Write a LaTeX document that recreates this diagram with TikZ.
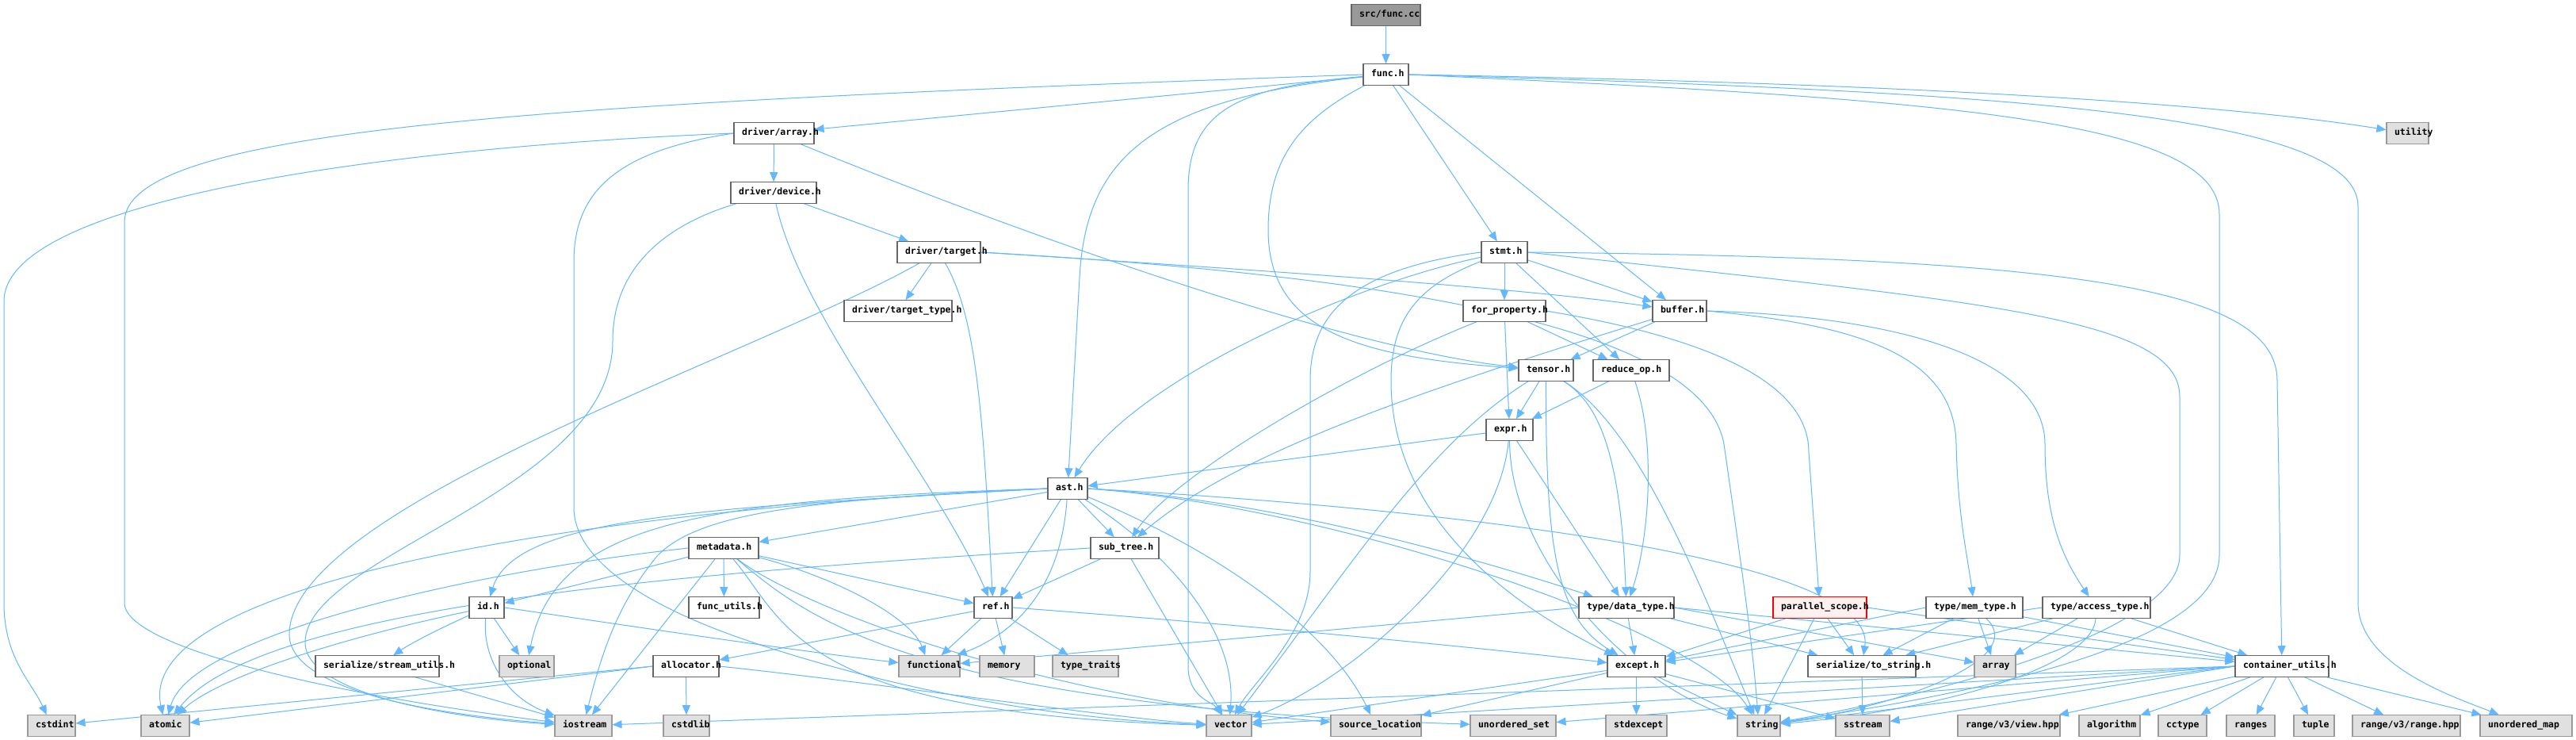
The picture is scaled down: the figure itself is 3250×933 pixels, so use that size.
\documentclass[tikz,border=0pt]{standalone}
\usepackage{fontspec}
\newfontfamily\dfont{DejaVu Sans Mono Bold}
\usetikzlibrary{arrows.meta}
\pgfdeclarelayer{bg}
\pgfsetlayers{bg,main}
\definecolor{edgec}{HTML}{63B8FF}
\definecolor{cdark}{HTML}{666666}
\definecolor{cmid}{HTML}{999999}
\definecolor{clight}{HTML}{E0E0E0}
\definecolor{cpink}{HTML}{FFF0F0}
\definecolor{cred}{HTML}{FF0000}
\tikzset{
  box/.style={rectangle, minimum height=26.5pt, inner xsep=10pt, inner ysep=0pt, line width=1.1pt,
    font=\dfont\fontsize{11.5}{13}\selectfont, text=black},
  nrm/.style={box, draw=cdark, fill=white},
  ext/.style={box, draw=cmid, fill=clight},
  rootbox/.style={box, draw=cdark, fill=cmid},
  hlbox/.style={box, draw=cred, fill=cpink},
  dep/.style={draw=edgec, line width=1pt, -{Triangle[length=12pt,width=10pt]}},
}
\newcommand\dnode[5]{\node[#1, minimum width=#4pt] (#2) at (#3) {\makebox[\dimexpr #4pt-20pt\relax][l]{\strut #5}};}
\begin{document}
\begin{tikzpicture}[x=1pt,y=-1pt]
\useasboundingbox (0,0) rectangle (3250,933);
% nodes
\dnode{rootbox}{srcfunc}{1748.5,19}{87}{src/func.cc}
\dnode{nrm}{funch}{1748.5,94}{57}{func.h}
\dnode{nrm}{darray}{976.5,168}{101}{driver/array.h}
\dnode{ext}{utility}{3037.5,168}{53}{utility}
\dnode{nrm}{ddevice}{976,243}{108}{driver/device.h}
\dnode{nrm}{dtarget}{1184.5,318}{105}{driver/target.h}
\dnode{nrm}{stmt}{1898,318}{58}{stmt.h}
\dnode{nrm}{dttype}{1133,392}{136}{driver/target\_type.h}
\dnode{nrm}{forprop}{1898,392}{104}{for\_property.h}
\dnode{nrm}{buffer}{2119,392}{68}{buffer.h}
\dnode{nrm}{tensor}{1950.5,467}{69}{tensor.h}
\dnode{nrm}{reduceop}{2058,467}{96}{reduce\_op.h}
\dnode{nrm}{expr}{1904.5,542}{59}{expr.h}
\dnode{nrm}{ast}{1347,616}{50}{ast.h}
\dnode{nrm}{metadata}{913,691}{88}{metadata.h}
\dnode{nrm}{subtree}{1419,691}{86}{sub\_tree.h}
\dnode{nrm}{idh}{614,766}{44}{id.h}
\dnode{nrm}{funcutils}{913.5,766}{89}{func\_utils.h}
\dnode{nrm}{refh}{1253,766}{48}{ref.h}
\dnode{nrm}{datatype}{2052,766}{120}{type/data\_type.h}
\dnode{hlbox}{pscope}{2296,766}{118}{parallel\_scope.h}
\dnode{nrm}{memtype}{2491,766}{122}{type/mem\_type.h}
\dnode{nrm}{acctype}{2645,766}{136}{type/access\_type.h}
\dnode{nrm}{streamutils}{476,840}{156}{serialize/stream\_utils.h}
\dnode{ext}{optional}{664.5,840}{69}{optional}
\dnode{nrm}{allocator}{865.5,840}{83}{allocator.h}
\dnode{ext}{functional}{1172.5,840}{77}{functional}
\dnode{ext}{memory}{1270.5,840}{69}{memory}
\dnode{ext}{typetraits}{1369.5,840}{83}{type\_traits}
\dnode{nrm}{except}{2064.5,840}{73}{except.h}
\dnode{nrm}{tostring}{2349,840}{136}{serialize/to\_string.h}
\dnode{ext}{array}{2517,840}{52}{array}
\dnode{nrm}{contutils}{2879,840}{118}{container\_utils.h}
\dnode{ext}{cstdint}{65,915}{60}{cstdint}
\dnode{ext}{atomic}{208.5,915}{61}{atomic}
\dnode{ext}{iostream}{736,915}{72}{iostream}
\dnode{ext}{cstdlib}{866,915}{58}{cstdlib}
\dnode{ext}{vector}{1550.5,915}{57}{vector}
\dnode{ext}{srcloc}{1736,915}{114}{source\_location}
\dnode{ext}{uset}{1909,915}{108}{unordered\_set}
\dnode{ext}{stdexcept}{2064.5,915}{77}{stdexcept}
\dnode{ext}{string}{2219,915}{54}{string}
\dnode{ext}{sstream}{2350,915}{68}{sstream}
\dnode{ext}{viewhpp}{2534.5,915}{129}{range/v3/view.hpp}
\dnode{ext}{algorithm}{2661.5,915}{77}{algorithm}
\dnode{ext}{cctype}{2753.5,915}{61}{cctype}
\dnode{ext}{ranges}{2839.5,915}{61}{ranges}
\dnode{ext}{tuple}{2919.5,915}{51}{tuple}
\dnode{ext}{rangehpp}{3036,915}{136}{range/v3/range.hpp}
\dnode{ext}{umap}{3187,915}{116}{unordered\_map}
\begin{pgfonlayer}{bg}
\fill[white] (0,0) rectangle (3250,933);
% src/func.cc
\draw[dep] (srcfunc) -- (funch);
% func.h
\draw[dep] (funch) -- (darray);
\draw[dep] (funch.west) .. controls (700,130) and (157,160) .. (157,280) -- (157,760) .. controls (157,820) and (450,880) .. (iostream);
\draw[dep] (funch) .. controls (1560,110) and (1499,140) .. (1499,240) -- (1499,840) .. controls (1499,880) and (1530,885) .. (vector);
\draw[dep] (funch) .. controls (1450,125) and (1370,200) .. (1362,350) -- (ast);
\draw[dep] (funch) .. controls (1640,150) and (1600,200) .. (1600,290) .. controls (1600,420) and (1720,450) .. (tensor);
\draw[dep] (funch) -- (stmt);
\draw[dep] (funch) -- (buffer);
\draw[dep] (funch.east) .. controls (2400,105) and (2800,130) .. (utility);
\draw[dep] (funch.east) .. controls (2500,115) and (2975,140) .. (2975,260) -- (2975,760) .. controls (2975,840) and (3100,880) .. (umap);
\draw[dep] (funch.east) .. controls (2450,125) and (2800,150) .. (2800,270) -- (2800,700) .. controls (2800,820) and (2450,880) .. (string);
% driver/array.h
\draw[dep] (darray) -- (ddevice);
\draw[dep] (darray) .. controls (1300,300) and (1700,440) .. (tensor);
\draw[dep] (darray.west) .. controls (500,185) and (5,250) .. (5,380) -- (5,760) .. controls (5,830) and (40,860) .. (cstdint);
\draw[dep] (darray.west) .. controls (780,190) and (724,240) .. (724,330) -- (724,640) .. controls (724,700) and (800,760) .. (950,810) .. controls (1100,860) and (1300,905) .. (vector);
% driver/device.h
\draw[dep] (ddevice) -- (dtarget);
\draw[dep] (ddevice) .. controls (1010,400) and (1180,600) .. (refh);
\draw[dep] (ddevice) .. controls (850,280) and (773,330) .. (773,430) .. controls (773,620) and (385,700) .. (385,810) .. controls (385,880) and (600,908) .. (iostream);
% driver/target.h
\draw[dep] (dtarget) -- (dttype);
\draw[dep] (dtarget) .. controls (1232,400) and (1240,520) .. (refh);
\draw[dep] (dtarget) .. controls (950,450) and (365,640) .. (365,800) .. controls (365,880) and (600,905) .. (iostream);
\draw[dep] (dtarget.east) .. controls (1500,335) and (1900,360) .. (buffer);
\draw[dep] (dtarget.east) .. controls (1800,350) and (2150,420) .. (2175,560) .. controls (2195,700) and (2210,800) .. (string);
% stmt.h
\draw[dep] (stmt) .. controls (1700,360) and (1430,480) .. (ast);
\draw[dep] (stmt) -- (forprop);
\draw[dep] (stmt) -- (buffer);
\draw[dep] (stmt) -- (reduceop);
\draw[dep] (stmt) .. controls (1790,360) and (1755,400) .. (1755,480) .. controls (1755,650) and (1900,760) .. (except);
\draw[dep] (stmt.west) .. controls (1700,340) and (1653,400) .. (1653,480) -- (1653,720) .. controls (1653,800) and (1580,860) .. (vector);
\draw[dep] (stmt.east) .. controls (2500,380) and (2750,400) .. (2750,500) -- (2750,700) .. controls (2750,800) and (2420,880) .. (string);
\draw[dep] (stmt.east) .. controls (2600,325) and (2873,360) .. (2873,480) -- (contutils);
% for_property.h
\draw[dep] (forprop) .. controls (1700,470) and (1480,600) .. (subtree);
\draw[dep] (forprop) -- (expr);
\draw[dep] (forprop) -- (reduceop);
\draw[dep] (forprop.east) .. controls (2150,425) and (2282,480) .. (2282,570) -- (pscope);
% buffer.h
\draw[dep] (buffer) -- (tensor);
\draw[dep] (buffer) .. controls (1800,490) and (1560,570) .. (subtree);
\draw[dep] (buffer.east) .. controls (2350,410) and (2466,450) .. (2468,560) .. controls (2470,650) and (2482,700) .. (memtype);
\draw[dep] (buffer.east) .. controls (2420,400) and (2580,460) .. (2580,560) .. controls (2580,650) and (2600,700) .. (acctype);
% tensor.h
\draw[dep] (tensor) -- (expr);
\draw[dep] (tensor) .. controls (2020,510) and (2045,580) .. (datatype);
\draw[dep] (tensor) .. controls (1950,700) and (1965,780) .. (except);
\draw[dep] (tensor) .. controls (2070,540) and (2150,750) .. (string);
\draw[dep] (tensor) .. controls (1800,560) and (1700,720) .. (vector);
% reduce_op.h
\draw[dep] (reduceop) -- (expr);
\draw[dep] (reduceop) .. controls (2090,560) and (2080,680) .. (datatype);
% expr.h
\draw[dep] (expr) -- (ast);
\draw[dep] (expr) -- (datatype);
\draw[dep] (expr) .. controls (1890,700) and (1700,860) .. (vector);
\draw[dep] (expr) .. controls (1905,700) and (2050,860) .. (string);
% ast.h
\draw[dep] (ast) -- (metadata);
\draw[dep] (ast) -- (subtree);
\draw[dep] (ast) -- (refh);
\draw[dep] (ast) .. controls (1340,720) and (1300,790) .. (functional);
\draw[dep] (ast.west) .. controls (900,640) and (650,650) .. (idh);
\draw[dep] (ast.west) .. controls (700,645) and (170,740) .. (atomic);
\draw[dep] (ast.west) .. controls (880,630) and (700,660) .. (optional);
\draw[dep] (ast.west) .. controls (1000,630) and (880,650) .. (830,700) .. controls (780,760) and (760,820) .. (iostream);
\draw[dep] (ast.east) .. controls (1600,630) and (1850,700) .. (datatype);
\draw[dep] (ast.east) .. controls (1800,640) and (2370,700) .. (tostring);
\draw[dep] (ast.east) .. controls (1700,640) and (2150,800) .. (string);
\draw[dep] (ast) .. controls (1550,700) and (1680,800) .. (srcloc);
\draw[dep] (ast) .. controls (1480,700) and (1560,800) .. (vector);
% metadata.h
\draw[dep] (metadata) -- (funcutils);
\draw[dep] (metadata) -- (refh);
\draw[dep] (metadata) -- (idh);
\draw[dep] (metadata) .. controls (1060,730) and (1150,780) .. (functional);
\draw[dep] (metadata) .. controls (990,780) and (1000,900) .. (vector);
\draw[dep] (metadata) .. controls (1020,780) and (1150,890) .. (uset);
\draw[dep] (metadata) .. controls (1000,760) and (1300,880) .. (srcloc);
\draw[dep] (metadata.west) .. controls (600,720) and (240,800) .. (atomic);
\draw[dep] (metadata) -- (iostream);
% sub_tree.h
\draw[dep] (subtree) -- (refh);
\draw[dep] (subtree) -- (vector);
\draw[dep] (subtree.west) .. controls (900,720) and (330,760) .. (atomic);
% ref.h
\draw[dep] (refh) -- (functional);
\draw[dep] (refh) -- (memory);
\draw[dep] (refh) -- (typetraits);
\draw[dep] (refh) -- (allocator);
\draw[dep] (refh.east) .. controls (1600,790) and (1900,820) .. (except);
% id.h
\draw[dep] (idh) .. controls (560,790) and (520,810) .. (streamutils);
\draw[dep] (idh) -- (optional);
\draw[dep] (idh) .. controls (450,800) and (280,850) .. (atomic);
\draw[dep] (idh) .. controls (608,830) and (640,880) .. (iostream);
\draw[dep] (idh.east) .. controls (800,790) and (1000,820) .. (functional);
% serialize/stream_utils.h
\draw[dep] (streamutils) -- (iostream);
% allocator.h
\draw[dep] (allocator) -- (cstdlib);
\draw[dep] (allocator.west) -- (cstdint);
\draw[dep] (allocator.west) -- (atomic);
\draw[dep] (allocator.east) .. controls (1100,860) and (1400,905) .. (vector);
% except.h
\draw[dep] (except) -- (stdexcept);
\draw[dep] (except) -- (string);
\draw[dep] (except) -- (sstream);
\draw[dep] (except) -- (srcloc);
\draw[dep] (except) -- (vector);
% type/data_type.h
\draw[dep] (datatype) -- (except);
\draw[dep] (datatype.west) -- (functional);
\draw[dep] (datatype) -- (tostring);
\draw[dep] (datatype.east) -- (contutils);
\draw[dep] (datatype.east) -- (array);
% parallel_scope.h
\draw[dep] (pscope) -- (except);
\draw[dep] (pscope) -- (string);
\draw[dep] (pscope) -- (tostring);
\draw[dep] (pscope.east) -- (contutils);
% serialize/to_string.h
\draw[dep] (tostring) -- (sstream);
% type/mem_type.h
\draw[dep] (memtype) -- (array);
\draw[dep] (memtype) -- (tostring);
\draw[dep] (memtype.west) -- (except);
\draw[dep] (memtype) -- (contutils);
\draw[dep] (memtype) .. controls (2560,830) and (2400,890) .. (string);
% type/access_type.h
\draw[dep] (acctype) -- (array);
\draw[dep] (acctype) -- (tostring);
\draw[dep] (acctype.west) -- (except);
\draw[dep] (acctype) -- (contutils);
\draw[dep] (acctype) .. controls (2640,840) and (2450,895) .. (string);
% container_utils.h
\draw[dep] (contutils) -- (viewhpp);
\draw[dep] (contutils) -- (algorithm);
\draw[dep] (contutils) -- (cctype);
\draw[dep] (contutils) -- (ranges);
\draw[dep] (contutils) -- (tuple);
\draw[dep] (contutils) -- (rangehpp);
\draw[dep] (contutils) -- (umap);
\draw[dep] (contutils.west) -- (sstream);
\draw[dep] (contutils.west) -- (string);
\draw[dep] (contutils.west) -- (vector);
\draw[dep] (contutils.west) -- (uset);
\draw[dep] (contutils.west) -- (iostream);
\end{pgfonlayer}
\end{tikzpicture}
\end{document}
